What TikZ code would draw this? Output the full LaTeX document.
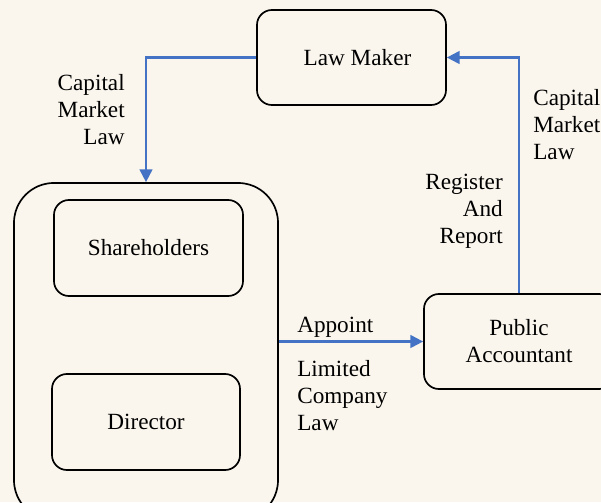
\documentclass[tikz,border=0pt]{standalone}
\usepackage{fontspec}
\setmainfont{Liberation Serif}
\usetikzlibrary{arrows.meta}
\definecolor{paper}{RGB}{250,246,237}
\definecolor{lawblue}{RGB}{68,114,196}
\begin{document}
\begin{tikzpicture}[x=0.025cm, y=-0.025cm,
        every node/.style={font=\fontsize{16.5}{19.2}\selectfont},
        box/.style={draw, line width=1.2pt, rounded corners=0.375cm, align=center},
        link/.style={draw=lawblue, line width=1.5pt, -{Triangle[length=9pt,width=9pt]}},
        lbl/.style={inner sep=0pt}
    ]
        \fill[paper] (0,0) rectangle (601,502);
        \useasboundingbox (0,0) rectangle (601,502);

        \node[box, minimum width=4.725cm, minimum height=2.375cm] (lawmaker) at (351.5,57.5) {\hspace{0.3cm}Law Maker};
        \node[box, rounded corners=1cm, minimum width=6.6cm, minimum height=8.425cm] (company) at (146,351.5) {};
        \node[box, minimum width=4.725cm, minimum height=2.4cm] (shareholders) at (148.5,248) {Shareholders};
        \node[box, minimum width=4.7cm, minimum height=2.4cm] (director) at (146,422) {Director};
        \node[box, minimum width=4.75cm, minimum height=2.375cm] (accountant) at (519,341.5) {Public\\Accountant};

        \draw[link] (lawmaker.west) -| (company.north);
        \draw[link] (accountant.west -| company.east) -- (accountant.west);
        \draw[link] (accountant.north) |- (lawmaker.east);

        \node[lbl, anchor=east, align=right] (cml left) at (125,110) {Capital\\Market\\Law};
        \node[lbl, anchor=west, align=left] (cml right) at (533,125) {Capital\\Market\\Law};
        \node[lbl, anchor=east, align=right] (register) at (503,211) {Register\\And\\Report};
        \node[lbl, anchor=base west] (appoint) at (297,332) {Appoint};
        \node[lbl, anchor=west, align=left] (limited) at (297,396) {Limited\\Company\\Law};
    \end{tikzpicture}
\end{document}
